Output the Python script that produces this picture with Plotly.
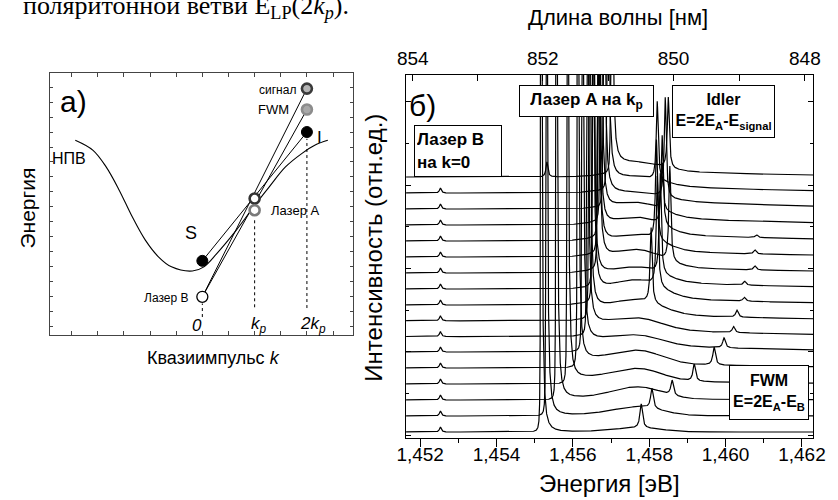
import numpy as np
import plotly.graph_objects as go

W, H = 838, 500
def X(px): return px / W
def Y(py): return 1 - py / H

# ---------------- panel a data ----------------
npv_k = [-2.43, -2.09, -1.84, -1.59, -1.34, -1.09, -0.84, -0.59, -0.19, 0.03, 0.28, 0.65, 1.03, 1.28, 1.59, 1.90, 2.15, 2.40]
npv_e = [13.0, 12.33, 11.22, 9.67, 7.89, 6.33, 5.22, 4.55, 4.27, 4.55, 5.45, 7.0, 8.78, 9.89, 11.22, 12.11, 12.67, 13.0]

pt_names = ["Лазер B", "S", "Лазер A", "Лазер A2", "сигнал", "FWM", "I"]
pt_k = [0, 0, 1, 1, 2, 2, 2]
pt_e = [2.55, 4.95, 9.11, 8.33, 16.45, 15.05, 13.55]
pt_fill = ["white", "black", "white", "white", "#b4b4b4", "#a8a8a8", "black"]
pt_edge = ["black", "black", "#333333", "#7a7a7a", "#3a3a3a", "#8c8c8c", "black"]
pt_edgew = [1.3, 1, 2.6, 2.6, 2.6, 2.6, 1]
link_pairs = [(0, 4), (0, 5), (1, 6)]
dotted_k = [0, 1, 2]
dotted_top = [2.1, 7.85, 13.1]
dotted_bot = [1.2, 1.85, 1.8]

# ---------------- panel b data ----------------
offsets = [6.3, 22.3, 38.3, 54.3, 70.3, 86.3, 101.7, 117.5, 133.3, 149.3, 165.3, 181.3, 197.3, 213.3, 229.3, 245.3, 261.3]
laserB_energy = 1.45253
laserB_height = [5] * 16 + [0]
laserA_energy = [1.45516, 1.45530, 1.45556, 1.45585, 1.45612, 1.45624, 1.45637, 1.45642, 1.45651, 1.45652,
                 1.45665, 1.45665, 1.45667, 1.45672, 1.45680, 1.45690, 1.45700]
tail_height = [0, 1, 2, 6, 8, 12, 12, 11, 12, 12, 10, 10, 11, 12, 14, 11, 9]
lp_height = [4, 8.5, 12, 12, 12.6, 9, 10.4, 13, 16, 13, 15.6, 14.6, 15, 13, 5.5, 7, 7]
lp_energy = 1.45772
fwm_energy = [1.45779, 1.45807, 1.45860, 1.45918, 1.45970, 1.45996, 1.46021, 1.46030, 1.46049, 1.46050,
              1.46077, 1.46077, 1.46081, 1.46081, 1.46081, 1.46081, 1.46081]
fwm_height = [24, 20, 15, 17, 18, 10, 6, 7, 4, 4, 4, 4, 3, 0, 0, 0, 0]
idler_energy = [1.4582, 1.4582, 1.4582, 1.4582, 1.4582, 1.4582, 1.4582, 1.45805, 1.45821, 1.45829,
                1.45854, 1.45819, 1.45834, 1.45834, 1.45842, 1.45821, 1.45850]
idler_height = [0, 0, 0, 0, 0, 0, 0, 75, 110, 100, 95, 100, 90, 47, 100, 79, 71]
extra_energy = 1.45532
extra_height = [0] * 16 + [15]

wl_ticks = [854, 852, 850, 848]
wl_minor = [853, 851, 849]
hc = 1239.84193

def lor(E, c, w):
    return w * w / ((E - c) ** 2 + w * w)

fig = go.Figure()

# ---- panel a traces ----
fig.add_trace(go.Scatter(x=npv_k, y=npv_e, mode="lines", line=dict(color="black", width=1.1, shape="spline", smoothing=1.0),
                         xaxis="x", yaxis="y", showlegend=False, hoverinfo="skip"))
for a, b in link_pairs:
    fig.add_trace(go.Scatter(x=[pt_k[a], pt_k[b]], y=[pt_e[a], pt_e[b]], mode="lines",
                             line=dict(color="black", width=1), xaxis="x", yaxis="y", showlegend=False))
for k, t, b in zip(dotted_k, dotted_top, dotted_bot):
    fig.add_trace(go.Scatter(x=[k, k], y=[b, t], mode="lines", line=dict(color="black", width=1, dash="dot"),
                             xaxis="x", yaxis="y", showlegend=False))
for i in range(len(pt_k)):
    fig.add_trace(go.Scatter(x=[pt_k[i]], y=[pt_e[i]], mode="markers",
                             marker=dict(size=10 if pt_edgew[i] > 2 else 11, color=pt_fill[i],
                                         line=dict(color=pt_edge[i], width=pt_edgew[i])),
                             xaxis="x", yaxis="y", showlegend=False, name=pt_names[i]))

# ---- panel b traces ----
base_grid = np.arange(1.4515, 1.4624, 0.00001)
for i in range(len(offsets)):
    parts = [base_grid,
             np.arange(laserA_energy[i] - 0.0002, laserA_energy[i] + 0.0006, 0.000001),
             np.arange(laserB_energy - 0.00015, laserB_energy + 0.00015, 0.000004),
             np.arange(fwm_energy[i] - 0.00015, fwm_energy[i] + 0.00015, 0.000004),
             np.arange(idler_energy[i] - 0.00015, idler_energy[i] + 0.00015, 0.000003),
             np.arange(extra_energy - 0.0001, extra_energy + 0.0001, 0.000003)]
    E = np.unique(np.concatenate(parts))
    EA = laserA_energy[i]
    wA = np.where(E < EA, 0.000003, 0.000012)
    y = np.full_like(E, offsets[i])
    y += laserB_height[i] * lor(E, laserB_energy, 0.00003)
    y += 3000 * lor(E, EA, wA)
    y += np.where(E > EA, tail_height[i] * np.exp(-(E - EA) / 0.0035), 0)
    sig = np.where(E < lp_energy, 0.0007, 0.0006)
    y += lp_height[i] * np.exp(-0.5 * ((E - lp_energy) / sig) ** 2)
    y += fwm_height[i] * lor(E, fwm_energy[i], 0.00004)
    y += idler_height[i] * lor(E, idler_energy[i], 0.00003)
    y += extra_height[i] * lor(E, extra_energy, 0.00003)
    y = np.minimum(y, 500)
    fig.add_trace(go.Scatter(x=np.round(E, 7), y=np.round(y, 2), mode="lines", line=dict(color="black", width=1.2),
                             xaxis="x2", yaxis="y2", showlegend=False, hoverinfo="skip"))

# invisible trace for top axis
fig.add_trace(go.Scatter(x=[1.455, 1.46], y=[-10, -10], mode="markers", marker=dict(opacity=0),
                         xaxis="x3", yaxis="y2", showlegend=False, hoverinfo="skip"))

xr = [1.451632, 1.462299]
top_vals = [hc / w for w in wl_ticks]
top_minor = [hc / w for w in wl_minor]

fig.update_layout(
    width=W, height=H, autosize=False, margin=dict(l=0, r=0, t=0, b=0),
    paper_bgcolor="white", plot_bgcolor="white", separators=", ",
    font=dict(family="Arial", color="black"),
    xaxis=dict(domain=[X(41.7), X(353.3)], range=[-2.92, 2.89], showgrid=False, zeroline=False, anchor="y",
               showline=True, linecolor="#444", linewidth=1.2, mirror="ticks", ticks="inside", ticklen=4,
               tickcolor="#444", tick0=0, dtick=0.5, showticklabels=False),
    yaxis=dict(domain=[Y(335), Y(73.3)], range=[0, 17.47], showgrid=False, zeroline=False, anchor="x",
               showline=True, linecolor="#444", linewidth=1.2, mirror="ticks", ticks="inside", ticklen=3,
               tickcolor="#444", tick0=0.55, dtick=1, showticklabels=False),
    xaxis2=dict(domain=[X(407.3), X(825)], range=xr, showgrid=False, zeroline=False, anchor="y2",
                showline=True, linecolor="black", linewidth=1.2, mirror=True, ticks="outside", ticklen=8,
                tickcolor="black", tick0=1.452, dtick=0.002, tickformat=".3f", tickfont=dict(size=19),
                ticklabelstandoff=-9,
                minor=dict(dtick=0.001, tick0=1.452, ticklen=4, ticks="outside", tickcolor="black")),
    xaxis3=dict(overlaying="x2", side="top", range=xr, showgrid=False, zeroline=False, showline=False,
                tickmode="array", tickvals=top_vals, ticktext=[str(w) for w in wl_ticks], ticks="inside",
                ticklen=6, tickcolor="black", tickfont=dict(size=19), ticklabelstandoff=5,
                minor=dict(tickmode="array", tickvals=top_minor, ticklen=6, ticks="inside", tickcolor="black"),
                anchor="y2"),
    yaxis2=dict(domain=[Y(438.3), Y(75)], range=[0, 363.3], showgrid=False, zeroline=False, anchor="x2",
                showline=True, linecolor="black", linewidth=1.2, mirror="ticks", ticks="inside", ticklen=5,
                tickcolor="black", tickmode="array", tickvals=[3.3, 86.6, 170, 253.3, 336.6], showticklabels=False,
                minor=dict(tickmode="array", tickvals=[45, 128.3, 211.6, 295], ticklen=3, ticks="inside",
                           tickcolor="black")),
)

ann = []
def txt(x, y, t, size, xanchor="center", yanchor="middle", angle=0, family="Arial", **kw):
    ann.append(dict(x=X(x), y=Y(y), xref="paper", yref="paper", text=t, showarrow=False,
                    font=dict(size=size, family=family, color="black"), xanchor=xanchor, yanchor=yanchor,
                    textangle=angle, **kw))

# header (cut off at top)
txt(12, 25, "поляритонной ветви E<sub>LP</sub>(2<i>k<sub>p</sub></i>).", 26, xanchor="left", yanchor="bottom",
    family="Liberation Serif")
# panel a texts
txt(50, 102, "а)", 30, xanchor="left")
txt(42, 158, "НПВ", 16, xanchor="left")
txt(187, 233, "S", 18)
txt(296, 90, "сигнал", 12, xanchor="right")
txt(289, 110, "FWM", 13, xanchor="right")
txt(318, 137, "I", 17)
txt(267, 211, "Лазер A", 13, xanchor="left")
txt(186, 298, "Лазер B", 12, xanchor="right")
txt(193, 325, "<i>0</i>", 17)
txt(256, 325, "<i>k<sub>p</sub></i>", 17)
txt(312, 325, "<i>2k<sub>p</sub></i>", 17)
txt(19, 208, "Энергия", 21, angle=-90)
txt(210, 358, "Квазиимпульс <i>k</i>", 18)
# panel b texts
txt(408, 106, "б)", 30, xanchor="left")
txt(625, 17, "Длина волны [нм]", 22)
txt(616, 483, "Энергия [эВ]", 24)
txt(373, 248, "Интенсивность (отн.ед.)", 24, angle=-90)

def box(x0, y0, w, h, t, size, align):
    ann.append(dict(x=X(x0), y=Y(y0), xref="paper", yref="paper", text=t, showarrow=False,
                    font=dict(size=size, family="Arial", color="black"), xanchor="left", yanchor="top",
                    align=align, bgcolor="white", bordercolor="black", borderwidth=1, borderpad=2,
                    width=w - 6, height=h - 6))

box(415, 125, 88, 52, "<b>Лазер B<br>на k=0</b>", 17, "left")
box(523, 85, 135, 32, "<b>Лазер A на k<sub>p</sub></b>", 17, "center")
box(680, 85, 103, 53, "<b>Idler<br>E=2E<sub>A</sub>-E<sub>signal</sub></b>", 16, "center")
box(738, 365, 80, 55, "<b>FWM<br>E=2E<sub>A</sub>-E<sub>B</sub></b>", 16, "center")

fig.update_layout(annotations=ann)
fig.write_html("out.html", config={"displayModeBar": False, "responsive": False},
               post_script="document.body.style.margin='0';document.body.style.padding='0';document.body.style.overflow='hidden';")
